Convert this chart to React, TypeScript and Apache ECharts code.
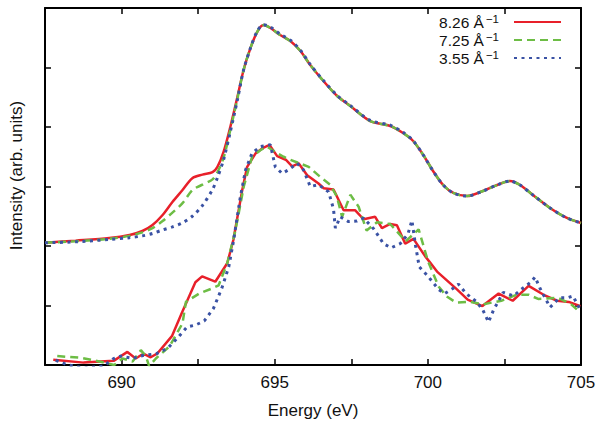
import React, { useEffect, useRef } from "react";
import * as echarts from "echarts";

// ---- Data (energy in eV, intensity in arb. units) ----
const xTicks = [687.5, 690, 692.5, 695, 697.5, 700, 702.5, 705];
const seriesNames = ["8.26 Å⁻¹", "7.25 Å⁻¹", "3.55 Å⁻¹"];

// upper (smooth) curves
const upperE = [687.5, 688.5, 689.6, 690.26, 690.68, 691.01, 691.34, 691.66, 691.99, 692.31, 692.64, 692.97, 693.13, 693.33, 693.55, 693.78, 693.98, 694.21, 694.43, 694.63, 694.86, 695.18, 695.51, 695.84, 696.16, 696.59, 697.04, 697.47, 698.12, 698.77, 699.19, 699.52, 699.85, 700.17, 700.5, 700.83, 701.28, 701.8, 702.26, 702.68, 703.01, 703.43, 703.99, 704.54, 705];
const upperRed = [2.055, 2.09, 2.134, 2.185, 2.252, 2.353, 2.521, 2.739, 2.941, 3.14, 3.2, 3.24, 3.33, 3.58, 4.0, 4.5, 4.95, 5.33, 5.6, 5.714, 5.664, 5.546, 5.445, 5.277, 5.042, 4.773, 4.521, 4.353, 4.1, 4.017, 3.899, 3.765, 3.529, 3.261, 3.025, 2.891, 2.84, 2.924, 3.025, 3.092, 3.025, 2.857, 2.639, 2.471, 2.387];
const upperGreen = [2.055, 2.08, 2.12, 2.17, 2.23, 2.3, 2.42, 2.56, 2.72, 2.94, 3.03, 3.12, 3.24, 3.48, 3.95, 4.47, 4.95, 5.33, 5.6, 5.714, 5.664, 5.546, 5.445, 5.277, 5.042, 4.773, 4.521, 4.353, 4.1, 4.017, 3.899, 3.765, 3.529, 3.261, 3.025, 2.891, 2.84, 2.924, 3.025, 3.092, 3.025, 2.857, 2.639, 2.471, 2.387];
const upperBlue = [2.055, 2.07, 2.11, 2.14, 2.17, 2.21, 2.27, 2.32, 2.39, 2.5, 2.68, 2.95, 3.15, 3.45, 3.92, 4.45, 4.95, 5.33, 5.61, 5.72, 5.68, 5.56, 5.46, 5.29, 5.05, 4.78, 4.53, 4.36, 4.11, 4.03, 3.91, 3.77, 3.53, 3.26, 3.025, 2.891, 2.84, 2.924, 3.025, 3.092, 3.025, 2.857, 2.639, 2.471, 2.387];

// lower (noisy) curves
const lowerRedE = [687.77, 688.76, 689.74, 690.19, 690.46, 690.71, 690.95, 691.16, 691.65, 691.98, 692.41, 692.63, 693.06, 693.45, 693.65, 693.94, 694.1, 694.38, 694.59, 694.83, 695.08, 695.36, 695.57, 695.78, 696.06, 696.43, 696.6, 696.92, 697.25, 697.63, 697.9, 698.28, 698.5, 698.77, 698.99, 699.26, 699.53, 699.91, 700.3, 700.95, 701.3, 701.78, 702.31, 702.77, 703.29, 703.78, 704.22, 704.6, 704.98];
const lowerRed = [0.09, 0.04, 0.07, 0.22, 0.11, 0.19, 0.13, 0.19, 0.49, 0.89, 1.39, 1.49, 1.4, 1.71, 2.1, 2.94, 3.33, 3.56, 3.64, 3.7, 3.51, 3.45, 3.34, 3.39, 3.19, 3.05, 2.97, 2.95, 2.6, 2.6, 2.45, 2.49, 2.3, 2.37, 2.35, 2.04, 2.12, 1.83, 1.57, 1.27, 1.1, 0.99, 1.2, 1.08, 1.33, 1.18, 1.08, 1.06, 0.99];

const lowerGreenE = [687.9, 688.7, 689.35, 689.76, 690.03, 690.36, 690.63, 690.8, 690.9, 691.12, 691.56, 691.99, 692.1, 692.53, 692.97, 693.17, 693.45, 693.72, 693.99, 694.26, 694.53, 694.75, 695.08, 695.29, 695.51, 696.11, 696.49, 696.81, 697.03, 697.2, 697.47, 697.74, 698.0, 698.34, 698.77, 699.28, 699.7, 700.0, 700.35, 700.62, 700.92, 701.4, 701.8, 702.4, 702.9, 703.3, 703.6, 704.25, 704.68, 704.98];
const lowerGreen = [0.15, 0.12, 0.05, 0.0, 0.11, 0.06, 0.25, 0.14, -0.02, 0.11, 0.31, 0.7, 1.06, 1.2, 1.29, 1.34, 1.71, 2.27, 3.0, 3.5, 3.61, 3.67, 3.56, 3.5, 3.45, 3.33, 3.16, 3.03, 2.83, 2.49, 2.86, 2.66, 2.26, 2.4, 2.37, 2.08, 2.28, 1.75, 1.32, 1.15, 1.05, 1.06, 1.02, 1.08, 1.18, 1.18, 1.11, 1.13, 1.02, 0.88];

const lowerBlueE = [687.85, 688.25, 688.8, 689.4, 689.75, 689.97, 690.36, 690.7, 691.14, 691.5, 691.82, 692.14, 692.41, 692.7, 693.0, 693.28, 693.5, 693.66, 693.88, 694.05, 694.26, 694.53, 694.86, 695.02, 695.24, 695.45, 695.73, 695.94, 696.16, 696.43, 696.76, 696.92, 696.98, 697.14, 697.41, 697.68, 697.9, 698.23, 698.55, 698.8, 699.1, 699.35, 699.48, 699.6, 699.72, 699.99, 700.35, 700.55, 700.86, 701.0, 701.25, 701.6, 701.8, 701.98, 702.14, 702.46, 702.8, 703.05, 703.38, 703.5, 703.66, 703.99, 704.3, 704.56, 704.74, 704.98];
const lowerBlue = [0.08, 0.0, -0.05, -0.02, 0.11, 0.15, 0.11, 0.16, 0.19, 0.28, 0.45, 0.64, 0.67, 0.74, 0.95, 1.3, 1.65, 2.1, 2.83, 3.28, 3.56, 3.67, 3.7, 3.33, 3.22, 3.28, 3.39, 3.28, 3.0, 3.03, 2.91, 2.62, 2.3, 2.49, 2.41, 2.42, 2.47, 2.29, 2.04, 1.97, 2.04, 2.2, 2.43, 2.0, 1.65, 1.5, 1.27, 1.2, 1.3, 1.36, 1.2, 1.06, 0.92, 0.72, 0.92, 1.22, 1.16, 1.27, 1.4, 1.48, 1.29, 0.97, 1.13, 1.13, 1.16, 0.92];

const zip = (xs: number[], ys: number[]) => xs.map((x, i) => [x, ys[i]]);

const FONT = "'Liberation Sans', Arial, Helvetica, sans-serif";
const RED = "#e8202a";
const GREEN = "#6dbd45";
const BLUE = "#3a52a4";

export default function App() {
  const ref = useRef<HTMLDivElement>(null);
  useEffect(() => {
    if (!ref.current) return;
    const chart = echarts.init(ref.current, null, { renderer: "svg" });
    const styles = [
      { color: RED, width: 2.5, type: "solid" as any },
      { color: GREEN, width: 2.5, type: [8, 5] as any },
      { color: BLUE, width: 3, type: [3, 4.5] as any },
    ];
    const curves = [
      [zip(upperE, upperRed), zip(lowerRedE, lowerRed)],
      [zip(upperE, upperGreen), zip(lowerGreenE, lowerGreen)],
      [zip(upperE, upperBlue), zip(lowerBlueE, lowerBlue)],
    ];
    const series: any[] = [];
    curves.forEach((pair, i) => {
      pair.forEach((data, j) => {
        series.push({
          type: "line",
          name: seriesNames[i],
          data,
          showSymbol: false,
          symbol: "none",
          smooth: j === 0 ? 0.3 : false,
          color: styles[i].color,
          lineStyle: { color: styles[i].color, width: styles[i].width, type: styles[i].type, cap: "butt" },
          z: 2 + i,
        });
      });
    });
    const axisCommon = {
      axisLine: { show: true, onZero: false, lineStyle: { color: "#000", width: 2 } },
      axisTick: { show: true, inside: true, length: 6, lineStyle: { color: "#000", width: 1.5 } },
      splitLine: { show: false },
    };
    const legendLabel: Record<string, string> = {
      "8.26 Å⁻¹": "8.26 Å{sup|−1}",
      "7.25 Å⁻¹": "7.25 Å{sup|−1}",
      "3.55 Å⁻¹": "3.55 Å{sup|−1}",
    };
    chart.setOption({
      animation: false,
      backgroundColor: "#fff",
      grid: { left: 42, top: 8, right: 23, bottom: 60 },
      legend: {
        data: seriesNames,
        orient: "vertical",
        align: "right",
        right: 42,
        top: 13,
        padding: 0,
        itemWidth: 47,
        itemHeight: 12,
        itemGap: 0,
        itemStyle: { opacity: 0, borderWidth: 0 },
        formatter: (n: string) => legendLabel[n] || n,
        textStyle: {
          fontFamily: FONT,
          fontSize: 15.5,
          color: "#111",
          lineHeight: 18,
          padding: [0, 10, 0, 0],
          rich: {
            sup: { fontFamily: FONT, fontSize: 11.5, color: "#111", verticalAlign: "top", lineHeight: 11, padding: [0, 0, 0, 2] },
          },
        },
      },
      xAxis: [
        {
          ...axisCommon,
          type: "value",
          min: 687.5,
          max: 705,
          interval: 2.5,
          name: "Energy (eV)",
          nameLocation: "middle",
          nameGap: 37,
          nameTextStyle: { fontFamily: FONT, fontSize: 17, color: "#111", verticalAlign: "top" },
          axisLabel: {
            show: true,
            margin: 9,
            fontFamily: FONT,
            fontSize: 17,
            color: "#111",
            showMaxLabel: true,
            formatter: (v: number) => (Math.abs(v % 5) < 1e-6 ? String(v) : ""),
          },
        },
        {
          ...axisCommon,
          type: "value",
          position: "top",
          min: 687.5,
          max: 705,
          interval: 2.5,
          axisLabel: { show: false },
        },
      ],
      yAxis: [
        {
          ...axisCommon,
          type: "value",
          min: 0,
          max: 6,
          interval: 1,
          name: "Intensity (arb. units)",
          nameLocation: "middle",
          nameGap: 20,
          nameTextStyle: { fontFamily: FONT, fontSize: 17, color: "#111", padding: [0, 0, 0, 22] },
          axisLabel: { show: false },
        },
        {
          ...axisCommon,
          type: "value",
          position: "right",
          min: 0,
          max: 6,
          interval: 1,
          axisLabel: { show: false },
        },
      ],
      series,
    });
    return () => chart.dispose();
  }, []);
  return (
    <div
      ref={ref}
      style={{ position: "fixed", left: 0, top: 0, width: 604, height: 425, background: "#fff" }}
    />
  );
}
